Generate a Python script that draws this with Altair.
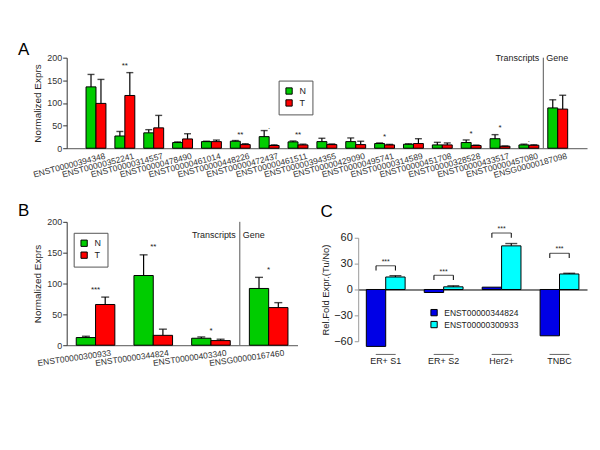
import altair as alt
import pandas as pd

FONT = "Liberation Sans"
GREEN = "#00CC00"
RED = "#FF0000"
BLUE = "#0000E6"
CYAN = "#00FFFF"

# ---------------- Panel A data ----------------
a_cats = ["ENST00000394348", "ENST00000352241", "ENST00000314557", "ENST00000478490",
          "ENST00000461014", "ENST00000448226", "ENST00000472437", "ENST00000461511",
          "ENST00000394355", "ENST00000429090", "ENST00000495741", "ENST00000314589",
          "ENST00000451708", "ENST00000328528", "ENST00000433517", "ENST00000457080",
          "ENSG00000187098"]
a_n = [135.5, 27, 34, 12.5, 14.6, 15.4, 25.6, 14, 14.6, 14.6, 10.3, 8.8, 7.3, 12.5, 21, 7.3, 89]
a_n_err = [163, 37, 41, 14, 15.5, 17, 39, 16, 22, 22.7, 11.7, 9.8, 13, 18.3, 30, 9, 107]
a_t = [99, 116.5, 45, 20.5, 14.6, 8, 6, 7.3, 8, 8, 7.3, 10.3, 7.3, 5.9, 4.4, 6.6, 86.4]
a_t_err = [152, 167, 72.5, 32, 18, 10, 7.5, 9, 9.5, 15.4, 8.5, 21, 11.7, 7, 5, 7.5, 117]
a_sig_cats = ["ENST00000352241", "ENST00000448226", "ENST00000472437", "ENST00000461511",
              "ENST00000495741", "ENST00000328528", "ENST00000433517", "ENST00000457080"]
a_sig_txt = ["**", "**", "\u00b7", "**", "*", "*", "*", "\u00b7"]
a_sig_y = [187, 34, 46, 33, 29, 35, 48, 18]

# ---------------- Panel B data ----------------
b_cats = ["ENST00000300933", "ENST00000344824", "ENST00000403340", "ENSG00000167460"]
b_n = [12.4, 113, 11.3, 92]
b_n_err = [14.5, 146.5, 13.4, 110]
b_t = [66, 16, 7.5, 61]
b_t_err = [78, 26, 9.7, 69]
b_sig_txt = ["***", "**", "*", "*"]
b_sig_y = [92, 163, 26, 124.5]

# ---------------- Panel C data ----------------
c_cats = ["ER+ S1", "ER+ S2", "Her2+", "TNBC"]
c_series = ["ENST00000344824", "ENST00000300933"]
c_blue = [-66, -3.5, 2.7, -53.7]
c_cyan = [14.5, 3.1, 50.6, 18]
c_cyan_err = [16, 4.3, 53.3, 18.8]
c_bracket_top = [27.5, 16.5, 65.5, 42]
c_bracket_leg = [22, 11, 60, 36.5]
c_sig_y = [34, 23, 72, 49]
c_sig_txt = ["***", "***", "***", "***"]


def long_df(cats, g1, v1, e1, g2, v2, e2):
    rows = []
    for c, a, ae, b, be in zip(cats, v1, e1, v2, e2):
        rows.append(dict(cat=c, grp=g1, val=a, err=ae))
        rows.append(dict(cat=c, grp=g2, val=b, err=be))
    return pd.DataFrame(rows)


def letter(t, dx, dy):
    return alt.Chart(pd.DataFrame({"t": [t]})).mark_text(
        align="left", baseline="middle", fontSize=17, color="black"
    ).encode(text="t:N", x=alt.value(dx), y=alt.value(dy))


def expr_panel(cats, df, sig_cats, sig_txt, sig_y, width, height, pin, pout,
               label_angle, label_dx, legend_x, legend_y, cap, bw, step, tr_y, sig_size):
    xscale = alt.Scale(type="band", paddingInner=pin, paddingOuter=pout)
    xaxis = alt.Axis(title=None, labelAngle=label_angle, labelAlign="right",
                     labelBaseline="top", labelOffset=label_dx, labelPadding=3,
                     labelFontSize=8.5, labelColor="#333", ticks=False,
                     domainColor="#555", labelOverlap=False, labelLimit=0)

    def X():
        return alt.X("cat:N", sort=cats, scale=xscale, axis=xaxis, bandPosition=0.5)

    yscale = alt.Scale(domain=[0, 200], nice=False)
    yaxis = alt.Axis(values=[0, 50, 100, 150, 200], title="Normalized Exprs",
                     titleFontSize=10, titleFontWeight="normal", titleColor="#222",
                     labelFontSize=9, labelColor="#333", tickSize=4, tickColor="#333",
                     domainColor="#333", labelPadding=1, titlePadding=4, grid=False)

    def Y(field=None, datum=None):
        if datum is not None:
            return alt.Y(datum=datum, type="quantitative", scale=yscale, axis=yaxis)
        return alt.Y(field, type="quantitative", scale=yscale, axis=yaxis)

    color = alt.Color("grp:N", scale=alt.Scale(domain=["N", "T"], range=[GREEN, RED]),
                      legend=alt.Legend(orient="none", legendX=legend_x, legendY=legend_y,
                                        title=None, symbolType="square", symbolSize=40,
                                        symbolStrokeColor="black", symbolStrokeWidth=1,
                                        labelFontSize=9, labelColor="#222", rowPadding=1,
                                        padding=6, strokeColor="#555", fillColor="white",
                                        labelOffset=6))
    layers = []
    for g, s in (("N", -1), ("T", 1)):
        sub = alt.Chart(df).transform_filter(alt.datum.grp == g)
        off = s * bw / 2
        layers.append(sub.mark_bar(size=bw, xOffset=off, stroke="black", strokeWidth=1).encode(
            x=X(), y=Y("val"), color=color))
    for g, s in (("N", -1), ("T", 1)):
        sub = alt.Chart(df).transform_filter(alt.datum.grp == g)
        off = s * bw / 2
        layers.append(sub.mark_rule(color="black", strokeWidth=1.2, xOffset=off).encode(
            x=X(), y=Y("val"), y2="err:Q"))
        layers.append(sub.mark_tick(color="black", size=cap, thickness=1.4, xOffset=off).encode(
            x=X(), y=Y("err")))
    sig = alt.Chart(pd.DataFrame({"cat": sig_cats, "txt": sig_txt, "y": sig_y})).mark_text(
        fontSize=sig_size, baseline="middle", dy=2, color="#222").encode(
        x=X(), y=Y("y"), text="txt:N")
    gene = pd.DataFrame({"cat": [cats[-1]]})
    sep = alt.Chart(gene).mark_rule(color="#555", strokeWidth=1, xOffset=-step / 2).encode(
        x=X(), y=Y(datum=0), y2=alt.datum(200))
    tr = alt.Chart(gene).mark_text(align="right", baseline="middle", fontSize=9, color="#222",
                                   xOffset=-step / 2 - 4).encode(
        x=X(), y=Y(datum=tr_y), text=alt.value("Transcripts"))
    gn = alt.Chart(gene).mark_text(align="left", baseline="middle", fontSize=9, color="#222",
                                   xOffset=-step / 2 + 3).encode(
        x=X(), y=Y(datum=tr_y), text=alt.value("Gene"))
    layers += [sig, sep, tr, gn]
    return alt.layer(*layers).properties(width=width, height=height)


dfA = long_df(a_cats, "N", a_n, a_n_err, "T", a_t, a_t_err)
panelA = alt.layer(
    expr_panel(a_cats, dfA, a_sig_cats, a_sig_txt, a_sig_y, 523, 91, 0.31, 0.67,
               -15, 8, 213, 23, 7, 10, 29, 199, 8),
    letter("A", -49, -8),
).properties(width=523, height=91)

dfB = long_df(b_cats, "N", b_n, b_n_err, "T", b_t, b_t_err)
panelB = alt.layer(
    expr_panel(b_cats, dfB, b_cats, b_sig_txt, b_sig_y, 232, 124, 0.33, 0.165,
               -8, 15, 7, 11, 8, 19.4, 58, 178, 8),
    letter("B", -49, -11),
).properties(width=232, height=124)

# ---------------- Panel C ----------------
rowsC = []
for c, bv, cv, ce in zip(c_cats, c_blue, c_cyan, c_cyan_err):
    rowsC.append(dict(cat=c, grp=c_series[0], val=bv, err=None))
    rowsC.append(dict(cat=c, grp=c_series[1], val=cv, err=ce))
dfC = pd.DataFrame(rowsC)

BWC = 19.5
xCscale = alt.Scale(type="band", paddingInner=0.33, paddingOuter=0.14)
xCaxis = alt.Axis(title=None, offset=-52, ticks=False, domainColor="black",
                  labelPadding=67, labelFontSize=9, labelColor="#222", labelAngle=0)


def XC():
    return alt.X("cat:N", sort=c_cats, scale=xCscale, axis=xCaxis, bandPosition=0.5)


yCscale = alt.Scale(domain=[-60, 60], nice=False)
yCaxis = alt.Axis(values=[-60, -30, 0, 30, 60], title="Rel.Fold Expr.(Tu/No)",
                  titleFontSize=9.5, titleFontWeight="normal", titleColor="#222",
                  labelFontSize=11, labelColor="#222", tickSize=4, tickColor="#999",
                  domainColor="#999", labelPadding=2, titlePadding=3, grid=False)


def YC(field=None, datum=None):
    if datum is not None:
        return alt.Y(datum=datum, type="quantitative", scale=yCscale, axis=yCaxis)
    return alt.Y(field, type="quantitative", scale=yCscale, axis=yCaxis)


colorC = alt.Color("grp:N", scale=alt.Scale(domain=c_series, range=[BLUE, CYAN]),
                   legend=alt.Legend(orient="none", legendX=72, legendY=71, title=None,
                                     symbolType="square", symbolSize=40,
                                     symbolStrokeColor="black", symbolStrokeWidth=1,
                                     labelFontSize=8.5, labelColor="#222", rowPadding=1,
                                     padding=0, labelOffset=6))
layersC = []
for g, s in zip(c_series, (-1, 1)):
    sub = alt.Chart(dfC).transform_filter(alt.datum.grp == g)
    layersC.append(sub.mark_bar(size=BWC, xOffset=s * BWC / 2, stroke="black", strokeWidth=1).encode(
        x=XC(), y=YC("val"), color=colorC))
subE = alt.Chart(dfC).transform_filter(alt.datum.grp == c_series[1])
layersC.append(subE.mark_rule(color="black", strokeWidth=1.2, xOffset=BWC / 2).encode(
    x=XC(), y=YC("val"), y2="err:Q"))
layersC.append(subE.mark_tick(color="black", size=12, thickness=1.4, xOffset=BWC / 2).encode(
    x=XC(), y=YC("err")))

dfBr = pd.DataFrame({"cat": c_cats, "top": c_bracket_top, "leg": c_bracket_leg})
layersC.append(alt.Chart(dfBr).mark_tick(color="black", size=BWC, thickness=1).encode(
    x=XC(), y=YC("top")))
for s in (-1, 1):
    layersC.append(alt.Chart(dfBr).mark_rule(color="black", strokeWidth=1, xOffset=s * BWC / 2).encode(
        x=XC(), y=YC("top"), y2="leg:Q"))
layersC.append(alt.Chart(pd.DataFrame({"cat": c_cats, "txt": c_sig_txt, "y": c_sig_y})).mark_text(
    fontSize=7, baseline="middle", dy=2, color="#222").encode(x=XC(), y=YC("y"), text="txt:N"))
layersC.append(alt.Chart(pd.DataFrame({"cat": c_cats})).mark_tick(
    color="#222", size=20, thickness=1).encode(x=XC(), y=YC(datum=-75.3)))
layersC.append(letter("C", -38, -26))

panelC = alt.layer(*layersC).properties(width=230, height=104)

spacer = alt.Chart(pd.DataFrame({"v": [0]})).mark_point(opacity=0).properties(width=230, height=16)

colC = alt.vconcat(spacer, panelC, spacing=0, bounds="flush").resolve_scale(color="independent")
rowBC = alt.hconcat(panelB, colC, spacing=61, bounds="flush").resolve_scale(color="independent")
chart = alt.vconcat(panelA, rowBC, spacing=74, bounds="flush").resolve_scale(
    color="independent").properties(
    padding={"left": 10, "top": 32, "right": 5, "bottom": 5}
).configure(font=FONT).configure_view(stroke=None)

chart.save("out.html", embed_options={"renderer": "svg", "actions": False})
